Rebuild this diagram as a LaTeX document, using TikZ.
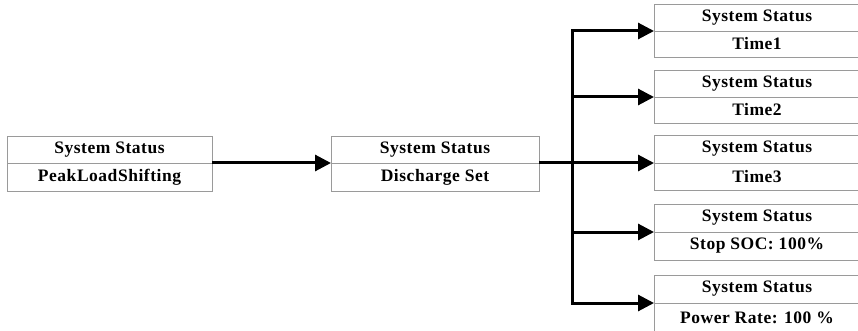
\documentclass[tikz,border=0pt]{standalone}
\usepackage{fontspec}
\setmainfont{Liberation Serif}[LetterSpace=3]
\usetikzlibrary{arrows.meta}
\definecolor{boxgray}{HTML}{9A9A9A}
\tikzset{
  part/.style={draw=boxgray, line width=0.9pt, inner sep=0pt, outer sep=0pt, anchor=north west,
    font=\fontsize{17.5}{20}\selectfont\bfseries},
  arr/.style={line width=3pt, line join=miter, -{Triangle[length=16pt,width=16pt]}},
  arrb/.style={line width=3pt, line join=miter, {Triangle[length=16pt,width=16pt]}-{Triangle[length=16pt,width=16pt]}},
  conn/.style={line width=3pt}
}
\begin{document}
\begin{tikzpicture}[x=1pt,y=-1pt]
\useasboundingbox (0,0) rectangle (858,331);
\clip (0,0) rectangle (858,331);
% left box
\node[part, minimum width=205pt, minimum height=27pt] (L1) at (7,136) {System Status};
\node[part, minimum width=205pt, minimum height=28pt] (L2) at (7,163) {PeakLoadShifting};
% middle box
\node[part, minimum width=208pt, minimum height=27pt] (M1) at (331,136) {System Status};
\node[part, minimum width=208pt, minimum height=28pt] (M2) at (331,163) {Discharge Set};
% right boxes
\node[part, minimum width=206pt, minimum height=27pt] (R1a) at (654,4) {System Status};
\node[part, minimum width=206pt, minimum height=26pt] (R1b) at (654,31) {Time1};
\node[part, minimum width=206pt, minimum height=27pt] (R2a) at (654,70) {System Status};
\node[part, minimum width=206pt, minimum height=26pt] (R2b) at (654,97) {Time2};
\node[part, minimum width=206pt, minimum height=28pt] (R3a) at (654,135) {System Status};
\node[part, minimum width=206pt, minimum height=27pt] (R3b) at (654,163) {Time3};
\node[part, minimum width=206pt, minimum height=28pt] (R4a) at (654,204) {System Status};
\node[part, minimum width=206pt, minimum height=28pt] (R4b) at (654,232) {Stop SOC: 100\%};
\node[part, minimum width=206pt, minimum height=28pt] (R5a) at (654,275) {System Status};
\node[part, minimum width=206pt, minimum height=30pt] (R5b) at (654,303) {Power Rate: 100 \%};
% connectors
\coordinate (trunk) at (572,163);
\draw[arr] (L1.south east) -- (M1.south west);
\draw[conn] (M1.south east) -- (trunk);
\draw[arrb] (R1a.south west) -- (trunk |- R1a.south west) -- (trunk |- R5a.south west) -- (R5a.south west);
\draw[arr] (trunk |- R2a.south west) -- (R2a.south west);
\draw[arr] (trunk) -- (R3a.south west);
\draw[arr] (trunk |- R4a.south west) -- (R4a.south west);
\end{tikzpicture}
\end{document}
